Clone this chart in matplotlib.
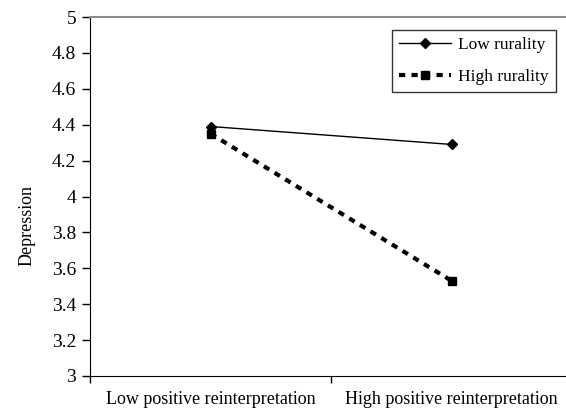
import matplotlib.pyplot as plt

categories = ['Low positive reinterpretation', 'High positive reinterpretation']
low_rurality = [4.39, 4.29]
high_rurality = [4.35, 3.53]
y_ticks = [3, 3.2, 3.4, 3.6, 3.8, 4, 4.2, 4.4, 4.6, 4.8, 5]
y_tick_labels = ['3', '3.2', '3.4', '3.6', '3.8', '4', '4.2', '4.4', '4.6', '4.8', '5']

plt.rcParams['font.family'] = ['Liberation Serif', 'DejaVu Serif']

fig = plt.figure(figsize=(5.66, 4.12), dpi=100)
ax = fig.add_axes([0.159, 0.0874, 0.852, 0.8713])

# categories sit between ticks, Excel style
x = [i + 0.5 for i in range(len(categories))]
ax.plot(x, low_rurality, color='black', linewidth=1.0, marker='D', markersize=5,
        label='Low rurality')
ax.plot(x, high_rurality, color='black', linewidth=3.0, linestyle=(0, (1.5, 1.5)),
        marker='s', markersize=6, label='High rurality')

ax.set_xlim(0, len(categories))
ax.set_ylim(3, 5)
ax.set_xticks(range(len(categories) + 1))
ax.set_xticklabels([])
ax.set_xticks(x, minor=True)
ax.set_xticklabels(categories, minor=True, fontsize=13)
ax.tick_params(axis='x', which='minor', length=0, pad=11)
ax.tick_params(axis='x', which='major', direction='out', length=5, width=1)
ax.set_yticks(y_ticks)
ax.set_yticklabels(y_tick_labels, fontsize=14)
ax.tick_params(axis='y', direction='out', length=6, width=1, pad=4)
ax.set_ylabel('Depression', fontsize=13)
ax.yaxis.set_label_coords(-0.114, 0.418)

ax.spines['right'].set_visible(False)
ax.spines['top'].set_color('#8c8c8c')
ax.spines['top'].set_linewidth(1.5)

leg = ax.legend(loc='upper right', bbox_to_anchor=(556 / 566, 1 - 30 / 412),
                bbox_transform=fig.transFigure, fontsize=12.5,
                frameon=True, fancybox=False, edgecolor='black', handlelength=3.0,
                handletextpad=0.4, borderpad=0.4, labelspacing=0.9, borderaxespad=0)
leg.get_frame().set_linewidth(1.0)

plt.savefig('out.png', dpi=100)
